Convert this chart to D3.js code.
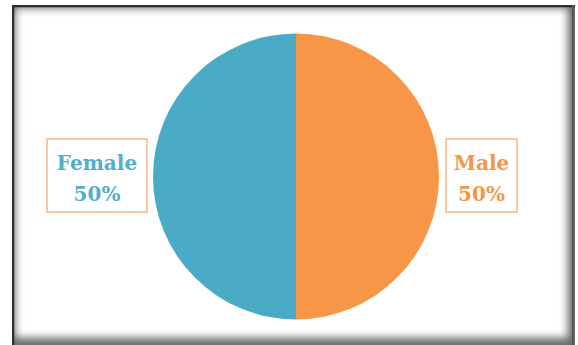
<!DOCTYPE html>
<html>
<head>
<meta charset="utf-8">
<script src="https://cdn.jsdelivr.net/npm/d3@7"></script>
<style>
  html, body { margin: 0; padding: 0; background: #ffffff; }
  svg { display: block; }
</style>
</head>
<body>
<svg id="chart" width="578" height="345"></svg>
<script>
// Gender split
const categories = ["Male", "Female"];
const values = [50, 50];
const labels = ["50%", "50%"];
const sliceColors = ["#f79646", "#4aabc6"];
const textColors = ["#f79646", "#54aecb"];

const W = 578, H = 345;
const svg = d3.select("#chart");
const defs = svg.append("defs");

// Framed panel with a soft inner shadow
const frame = { x: 12, y: 5, w: 563, h: 340 };
defs.append("clipPath").attr("id", "frameClip")
  .append("rect").attr("x", frame.x).attr("y", frame.y)
  .attr("width", frame.w).attr("height", frame.h);
const blur = defs.append("filter").attr("id", "soft")
  .attr("x", "-10%").attr("y", "-10%").attr("width", "120%").attr("height", "120%");
blur.append("feGaussianBlur").attr("stdDeviation", 4);

svg.append("rect").attr("width", W).attr("height", H).attr("fill", "#ffffff");
const fg = svg.append("g").attr("clip-path", "url(#frameClip)");
fg.append("rect")
  .attr("x", frame.x - 4).attr("y", frame.y - 4)
  .attr("width", frame.w + 4).attr("height", frame.h + 4)
  .attr("fill", "none").attr("stroke", "#666").attr("stroke-width", 14)
  .attr("filter", "url(#soft)");
fg.append("path")
  .attr("d", `M${frame.x + 1},${frame.y + frame.h} V${frame.y + 1} H${frame.x + frame.w}`)
  .attr("fill", "none").attr("stroke", "#2e2e2e").attr("stroke-width", 2.5);
fg.append("path")
  .attr("d", `M${frame.x + frame.w - 2},${frame.y} V${frame.y + frame.h}`)
  .attr("fill", "none").attr("stroke", "#555").attr("stroke-width", 2);

// Pie
const cx = 296, cy = 176.5, r = 143;
const pie = d3.pie().sort(null).value(d => d)(values);
const arc = d3.arc().innerRadius(0).outerRadius(r);
svg.append("g").attr("transform", `translate(${cx},${cy})`)
  .selectAll("path").data(pie).join("path")
  .attr("d", arc)
  .attr("fill", (d, i) => sliceColors[i]);

// Label boxes
const boxes = [
  { x: 446, y: 139, w: 71, h: 73 },
  { x: 47, y: 139, w: 100, h: 73 }
];
const lg = svg.append("g");
boxes.forEach((b, i) => {
  lg.append("rect")
    .attr("x", b.x).attr("y", b.y).attr("width", b.w).attr("height", b.h)
    .attr("fill", "#ffffff").attr("stroke", "#f9b888").attr("stroke-width", 1.6);
  const tx = b.x + b.w / 2;
  lg.append("text").attr("x", tx).attr("y", b.y + 31)
    .attr("text-anchor", "middle")
    .attr("font-family", "DejaVu Serif").attr("font-weight", "bold")
    .attr("font-size", 20).attr("fill", textColors[i])
    .text(categories[i]);
  lg.append("text").attr("x", tx).attr("y", b.y + 62)
    .attr("text-anchor", "middle")
    .attr("font-family", "DejaVu Serif").attr("font-weight", "bold")
    .attr("font-size", 20).attr("fill", textColors[i])
    .text(labels[i]);
});
</script>
</body>
</html>
